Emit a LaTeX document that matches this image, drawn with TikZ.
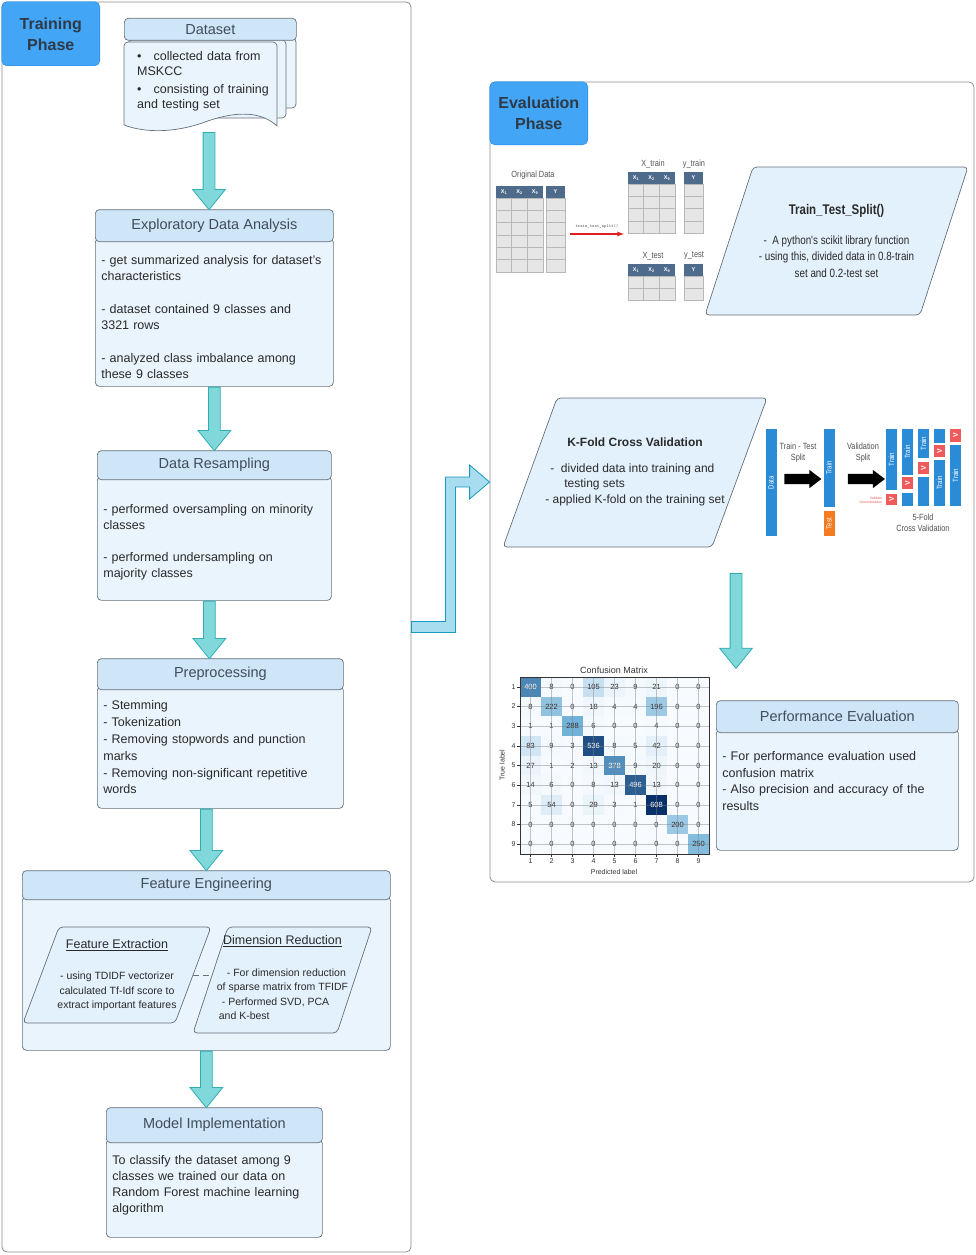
\documentclass[tikz,border=0pt]{standalone}
\usepackage{fontspec}
\setmainfont{Liberation Sans}
\newfontfamily\narrowfont[FakeStretch=0.82]{Liberation Sans}
\usetikzlibrary{positioning,shapes.arrows,calc}

\definecolor{frameline}{HTML}{8C8C8C}
\definecolor{phasefill}{HTML}{42A5F5}
\definecolor{phaseline}{HTML}{1E88E5}
\definecolor{phasetext}{HTML}{2E3A47}
\definecolor{headfill}{HTML}{CFE5F8}
\definecolor{bodyfill}{HTML}{EAF4FD}
\definecolor{boxline}{HTML}{66707A}
\definecolor{headtext}{HTML}{3F4D5C}
\definecolor{bodytext}{HTML}{2A2A2A}
\definecolor{parafill}{HTML}{E3F1FC}
\definecolor{arrowfill}{HTML}{80D8DA}
\definecolor{arrowline}{HTML}{30AEB4}
\definecolor{bigfill}{HTML}{A8DCEF}
\definecolor{bigline}{HTML}{1A9AC2}
\definecolor{tabhead}{HTML}{4E6B8C}
\definecolor{tabcell}{HTML}{E6E6E6}
\definecolor{tabgrid}{HTML}{B8B8B8}
\definecolor{tabtitle}{HTML}{555555}
\definecolor{splitred}{HTML}{E02020}
\definecolor{kblue}{HTML}{2A8BD6}
\definecolor{korange}{HTML}{F47B20}
\definecolor{kred}{HTML}{EF5B5B}
\definecolor{ktext}{HTML}{505050}
\definecolor{cmLo}{HTML}{F7FBFF}
\definecolor{cmMid}{HTML}{6BAED6}
\definecolor{cmHi}{HTML}{08306B}
\definecolor{cmtext}{HTML}{333333}

\begin{document}
\begin{tikzpicture}[x=1pt, y=-1pt]
    \tikzstyle{frame} = [rectangle, rounded corners=5pt, draw=frameline, line width=0.8pt]
    \tikzstyle{phase} = [rectangle, rounded corners=5pt, draw=phaseline, fill=phasefill, text=phasetext, font=\fontsize{16}{21}\selectfont\bfseries, align=center, minimum width=98pt, minimum height=64pt, anchor=north west, inner sep=0pt]
    \tikzstyle{stagehead} = [rectangle, rounded corners=4pt, draw=boxline, fill=headfill, text=headtext, font=\fontsize{14.5}{17}\selectfont, inner sep=0pt, line width=0.7pt]
    \tikzstyle{stagebody} = [rectangle, rounded corners=4pt, draw=boxline, fill=bodyfill, text=bodytext, font=\fontsize{12.5}{16}\selectfont, align=left, inner xsep=6pt, inner ysep=4pt, anchor=north west, line width=0.7pt]
    \tikzstyle{docpage} = [draw=boxline, fill=bodyfill, rounded corners=4pt, line width=0.7pt]
    \tikzstyle{para} = [rounded corners=4pt, draw=boxline, fill=parafill, line width=0.7pt]
    \tikzstyle{paratext} = [rectangle, text=bodytext, align=center, inner sep=0pt]
    \tikzstyle{fatarrow} = [single arrow, single arrow tip angle=78, single arrow head extend=10.5pt, inner xsep=0pt, inner ysep=5.5pt, rotate=-90, anchor=tail, draw=arrowline, fill=arrowfill, line width=0.8pt]
    \tikzstyle{bigarrow} = [draw=bigline, fill=bigfill, line width=0.8pt, line join=miter]
    \tikzstyle{tabhead} = [fill=tabhead]
    \tikzstyle{tabgrid} = [draw=tabgrid, line width=0.5pt]
    \tikzstyle{tabtext} = [text=white, font=\fontsize{5.5}{6}\selectfont\bfseries, inner sep=0pt]
    \tikzstyle{tabtitle} = [text=tabtitle, font=\narrowfont\fontsize{9}{10}\selectfont, inner sep=0pt]
    \tikzstyle{splitarrow} = [-latex, draw=splitred, line width=1.3pt]
    \tikzstyle{kbar} = [rectangle, rotate=90, minimum height=11pt, inner sep=0pt, fill=kblue, text=white, font=\narrowfont\fontsize{7.5}{8}\selectfont]
    \tikzstyle{kval} = [kbar, fill=kred, font=\fontsize{7}{8}\selectfont\bfseries]
    \tikzstyle{klabel} = [align=center, text=ktext, font=\narrowfont\fontsize{9}{11}\selectfont, inner sep=0pt]
    \tikzstyle{karrow} = [single arrow, fill=black, single arrow tip angle=74, single arrow head extend=4pt, inner xsep=0pt, inner ysep=5pt, minimum height=37pt]
    \tikzstyle{cell} = [rectangle, minimum width=21pt, minimum height=19.67pt, inner sep=0pt, font=\fontsize{7.5}{8}\selectfont, text=cmtext]
    \tikzstyle{cmlabel} = [text=cmtext, font=\fontsize{7}{8}\selectfont, inner sep=1pt]
    \tikzstyle{cmgrid} = [draw=gray, line width=0.3pt, opacity=0.45]

    \useasboundingbox (0,0) rectangle (976,1255);

    % Phase frames
    \node [frame, minimum width=409pt, minimum height=1250pt] (train) at (206.5,627) {};
    \node [frame, minimum width=484pt, minimum height=800pt] (eval) at (732,482) {};
    \node [phase] (train-label) at (train.north west) {Training\\Phase};
    \node [phase, minimum height=63pt] (eval-label) at (eval.north west) {Evaluation\\Phase};

    % Dataset
    \filldraw [docpage] (132,38) rectangle (296,108);
    \filldraw [docpage] (128,40) rectangle (286,118);
    \filldraw [docpage] (124,125) [rounded corners=4pt] -- (124,42) -- (277,42) [sharp corners] -- (277,126)
        .. controls (262,112) and (238,110) .. (205,122) .. controls (175,133) and (145,133) .. (124,125) -- cycle;
    \node [stagehead, minimum width=172pt, minimum height=22pt, anchor=north west] (data-head) at (124,18) {Dataset};
    \node [anchor=north west, text width=140pt, align=left, font=\fontsize{12.5}{15.5}\selectfont, text=bodytext, inner sep=0pt] (data-body) at (137,51)
        {\textbullet\hspace{12pt}collected data from\\MSKCC\\[2pt]\textbullet\hspace{12pt}consisting of training\\and testing set};
    \coordinate (data-out) at (209,132);

    % Training stages
    \node [stagebody, text width=226pt, minimum height=148pt] (eda-body) at (95,238)
        {\mbox{}\\[3pt]- get summarized analysis for dataset's\\characteristics\\[17pt]- dataset contained 9 classes and\\3321 rows\\[17pt]- analyzed class imbalance among\\these 9 classes};
    \node [stagehead, minimum width=238pt, minimum height=32pt, above=-4pt of eda-body] (eda-head) {Exploratory Data Analysis};

    \node [stagebody, text width=222pt, minimum height=124pt] (resamp-body) at (97,476)
        {\mbox{}\\[1pt]- performed oversampling on minority\\classes\\[16pt]- performed undersampling on\\majority classes};
    \node [stagehead, minimum width=234pt, minimum height=29pt, above=-4pt of resamp-body] (resamp-head) {Data Resampling};

    \node [stagebody, text width=234pt, minimum height=122pt, font=\fontsize{12.5}{16.8}\selectfont] (prep-body) at (97,686)
        {- Stemming\\- Tokenization\\- Removing stopwords and punction\\marks\\- Removing non-significant repetitive\\words};
    \node [stagehead, minimum width=246pt, minimum height=31pt, above=-4pt of prep-body] (prep-head) {Preprocessing};

    \node [stagebody, text width=356pt, minimum height=154pt] (fe-body) at (22,896) {};
    \node [stagehead, minimum width=368pt, minimum height=29pt, above=-4pt of fe-body] (fe-head) {Feature Engineering};
    \filldraw [para] (23,1023) -- (59,927) -- (211,927) -- (175,1023) -- cycle;
    \filldraw [para] (193,1033) -- (228,927) -- (372,927) -- (337,1033) -- cycle;
    \node [paratext, minimum width=152pt, font=\fontsize{10.5}{14.5}\selectfont] (fe-extract) at (117,975)
        {{\fontsize{12.5}{15}\selectfont\underline{Feature Extraction}}\\[17pt]- using TDIDF vectorizer\\calculated Tf-Idf score to\\extract important features};
    \node [paratext, minimum width=142pt, font=\fontsize{10.5}{14.5}\selectfont] (dim-red) at (282.5,980)
        {{\fontsize{12.5}{15}\selectfont\underline{Dimension Reduction}}\\[18pt]\begin{tabular}{@{}l@{}}\hspace{10pt}- For dimension reduction\\of sparse matrix from TFIDF\\\hspace{5pt}- Performed SVD, PCA\\\hspace{2pt}and K-best\end{tabular}};
    \draw [draw=boxline, line width=1pt, dash pattern=on 6pt off 4pt] (fe-extract.east) -- (fe-extract.east -| dim-red.west);

    \node [stagebody, text width=204pt, minimum height=98pt] (mi-body) at (106,1139)
        {To classify the dataset among 9\\classes we trained our data on\\Random Forest machine learning\\algorithm\\[-7pt]\mbox{}};
    \node [stagehead, minimum width=216pt, minimum height=35pt, above=-4pt of mi-body] (mi-head) {Model Implementation};

    % Flow arrows
    \path let \p1=(data-out), \p2=(eda-head.north) in node [fatarrow, minimum height={\y1-(\y2)}] at (\p1) {};
    \path let \p1=(eda-body.south), \p2=(resamp-head.north) in node [fatarrow, minimum height={\y1-(\y2)}] at (\p1) {};
    \path let \p1=([xshift=-5pt]resamp-body.south), \p2=(prep-head.north) in node [fatarrow, minimum height={\y1-(\y2)}] at (\p1) {};
    \path let \p1=(fe-head.north |- prep-body.south), \p2=(fe-head.north) in node [fatarrow, minimum height={\y1-(\y2)}] at (\p1) {};
    \path let \p1=(fe-body.south), \p2=(mi-head.north) in node [fatarrow, minimum height={\y1-(\y2)}] at (\p1) {};

    % Training -> Evaluation
    \coordinate (bend) at ($(train.east)!0.5!(eval.west)$);
    \filldraw [bigarrow] ([yshift=5.5pt]train.east) -- ([xshift=-5pt,yshift=5.5pt]bend |- train.east)
        -- ([xshift=-5pt,yshift=5pt]bend |- eval.west) -- ([xshift=-20pt,yshift=5pt]eval.west)
        -- ([xshift=-20pt,yshift=17pt]eval.west) -- (eval.west) -- ([xshift=-20pt,yshift=-17pt]eval.west)
        -- ([xshift=-20pt,yshift=-5pt]eval.west) -- ([xshift=5pt,yshift=-5pt]bend |- eval.west)
        -- ([xshift=5pt,yshift=-5.5pt]bend |- train.east) -- ([yshift=-5.5pt]train.east) -- cycle;

    % Train test split tables
    \node [tabtitle] (orig-title) at (533,175) {Original Data};
    \node [tabtitle] (xtrain-title) at (653,164) {X\_train};
    \node [tabtitle] (ytrain-title) at (694,164) {y\_train};
    \node [tabtitle] (xtest-title) at (653,256) {X\_test};
    \node [tabtitle] (ytest-title) at (694,256) {y\_test};
    \foreach \tx/\ty/\ny/\nr in {496/186/546/6, 628/172/684/4, 628/264/684/2} {
        \fill [tabhead] (\tx,\ty) rectangle ++(47,12);
        \fill [tabhead] (\ny,\ty) rectangle ++(19,12);
        \node [tabtext] at (\tx+8,\ty+6) {X\textsubscript{1}};
        \node [tabtext] at (\tx+23.5,\ty+6) {X\textsubscript{2}};
        \node [tabtext] at (\tx+39,\ty+6) {X\textsubscript{9}};
        \node [tabtext] at (\ny+9.5,\ty+6) {Y};
        \filldraw [tabgrid, fill=tabcell] (\tx,\ty+12) rectangle ++(47,12.3*\nr);
        \filldraw [tabgrid, fill=tabcell] (\ny,\ty+12) rectangle ++(19,12.3*\nr);
        \draw [tabgrid] (\tx+15.67,\ty+12) -- ++(0,12.3*\nr) (\tx+31.33,\ty+12) -- ++(0,12.3*\nr);
        \foreach \k in {1,...,\nr}
            \draw [tabgrid] (\tx,\ty+12+12.3*\k) -- ++(47,0) (\ny,\ty+12+12.3*\k) -- ++(19,0);
    }
    \coordinate (split-start) at (570,234);
    \coordinate (split-end) at (624,234);
    \draw [splitarrow] (split-start) -- node [above=2pt, font=\ttfamily\fontsize{4.5}{5}\selectfont, text=tabtitle] {train\_test\_split()} (split-end);

    \filldraw [para] (705,315) -- (753,167) -- (968,167) -- (920,315) -- cycle;
    \node [paratext, font=\narrowfont\fontsize{12}{16.5}\selectfont] (tt-split) at (836.5,241)
        {{\fontsize{14}{16}\selectfont\bfseries Train\_Test\_Split()}\\[13pt]-\ \ A python's scikit library function\\- using this, divided data in 0.8-train\\set and 0.2-test set};

    % K-fold
    \filldraw [para] (503,547) -- (557,398) -- (767,398) -- (712,547) -- cycle;
    \node [paratext, font=\fontsize{12}{15.5}\selectfont] (kfold) at (635,472.5)
        {{\bfseries K-Fold Cross Validation}\\[14pt]\begin{tabular}{@{}l@{}}\hspace{5pt}-\ \ divided data into training and\\\hspace{19pt}testing sets\\- applied K-fold on the training set\end{tabular}};

    \node [kbar, minimum width=107pt] (kf-data) at (771,482.5) {Data};
    \node [kbar, minimum width=78pt] (kf-train) at (829,468) {Train};
    \node [kbar, minimum width=25pt, fill=korange] (kf-test) at (829,523.5) {Test};
    \node [karrow] (kf-arrow1) at (799.5,479) {};
    \node [karrow] (kf-arrow2) at (863,479) {};
    \node [klabel] (kf-split1) at (798,453) {Train - Test\\Split};
    \node [klabel] (kf-split2) at (863,453) {Validation\\Split};
    % folds
    \node [kbar, minimum width=61pt] (f1-train) at (891.5,459.5) {Train};
    \node [kval, minimum width=11pt] (f1-val) at (891.5,499.5) {V};
    \node [kbar, minimum width=46pt] (f2-train) at (907.5,452) {Train};
    \node [kval, minimum width=12pt] (f2-val) at (907.5,483) {V};
    \node [kbar, minimum width=13pt] (f2-rest) at (907.5,499.5) {};
    \node [kbar, minimum width=29pt] (f3-train) at (923.5,443.5) {Train};
    \node [kval, minimum width=12pt] (f3-val) at (923.5,468) {V};
    \node [kbar, minimum width=29pt] (f3-rest) at (923.5,491.5) {};
    \node [kbar, minimum width=14pt] (f4-rest) at (939.5,436) {};
    \node [kval, minimum width=12pt] (f4-val) at (939.5,451) {V};
    \node [kbar, minimum width=46pt] (f4-train) at (939.5,483) {Train};
    \node [kval, minimum width=13pt] (f5-val) at (955.5,435.5) {V};
    \node [kbar, minimum width=61pt] (f5-train) at (955.5,475.5) {Train};
    \node [klabel, align=right, text=kred, font=\fontsize{3.5}{4}\selectfont] (kf-valnote) at (871,500) {Validate\\Generalization};
    \node [klabel] (kf-five) at (923,523) {5-Fold\\Cross Validation};

    \coordinate (cv-out) at (736,573);
    \coordinate (cv-in) at (736,668);
    \path let \p1=(cv-out), \p2=(cv-in) in node [fatarrow, minimum height={\y1-(\y2)}] at (\p1) {};

    % Confusion matrix
    \node [font=\fontsize{9}{10}\selectfont, text=cmtext] (cm-title) at (614,670) {Confusion Matrix};
    \foreach \row [count=\r] in {{400,8,0,105,23,9,21,0,0},{8,222,0,18,4,4,196,0,0},{1,1,288,6,0,0,4,0,0},
        {83,9,3,536,8,5,42,0,0},{27,1,2,13,378,9,20,0,0},{14,6,0,8,13,496,13,0,0},
        {5,54,0,29,3,1,608,0,0},{0,0,0,0,0,0,0,200,0},{0,0,0,0,0,0,0,0,250}} {
        \foreach \v [count=\c] in \row {
            \pgfmathsetmacro\pct{\v/6.08}
            \ifdim\pct pt<50pt
                \pgfmathsetmacro\mix{2*\pct}
                \node [cell, fill=cmMid!\mix!cmLo] (m-\r-\c) at (509.5+21*\c,667.17+19.67*\r) {\v};
            \else
                \pgfmathsetmacro\mix{min(2*\pct-100,100)}
                \node [cell, fill=cmHi!\mix!cmMid, text=white] (m-\r-\c) at (509.5+21*\c,667.17+19.67*\r) {\v};
            \fi
        }
    }
    \foreach \k in {1,...,9} {
        \draw [cmgrid] (m-1-\k.north) -- (m-9-\k.south);
        \draw [cmgrid] (m-\k-1.west) -- (m-\k-9.east);
        \draw [cmtext, line width=0.4pt] (m-\k-1.west) -- ++(-3,0);
        \draw [cmtext, line width=0.4pt] (m-9-\k.south) -- ++(0,3);
        \node [cmlabel, anchor=east] at ([xshift=-3pt]m-\k-1.west) {\k};
        \node [cmlabel, anchor=north] at ([yshift=-3pt]m-9-\k.south) {\k};
    }
    \draw [cmtext, line width=0.5pt] (m-1-1.north west) rectangle (m-9-9.south east);
    \node [cmlabel, rotate=90] (cm-ylabel) at (502,765) {True label};
    \node [cmlabel] (cm-xlabel) at (614,872) {Predicted label};

    % Performance evaluation
    \node [stagebody, text width=230pt, minimum height=121pt, font=\fontsize{12.5}{16.8}\selectfont] (perf-body) at (716,729)
        {- For performance evaluation used\\confusion matrix\\- Also precision and accuracy of the\\results\\[1pt]\mbox{}};
    \node [stagehead, minimum width=242pt, minimum height=32pt, above=-4pt of perf-body] (perf-head) {Performance Evaluation};
\end{tikzpicture}
\end{document}
